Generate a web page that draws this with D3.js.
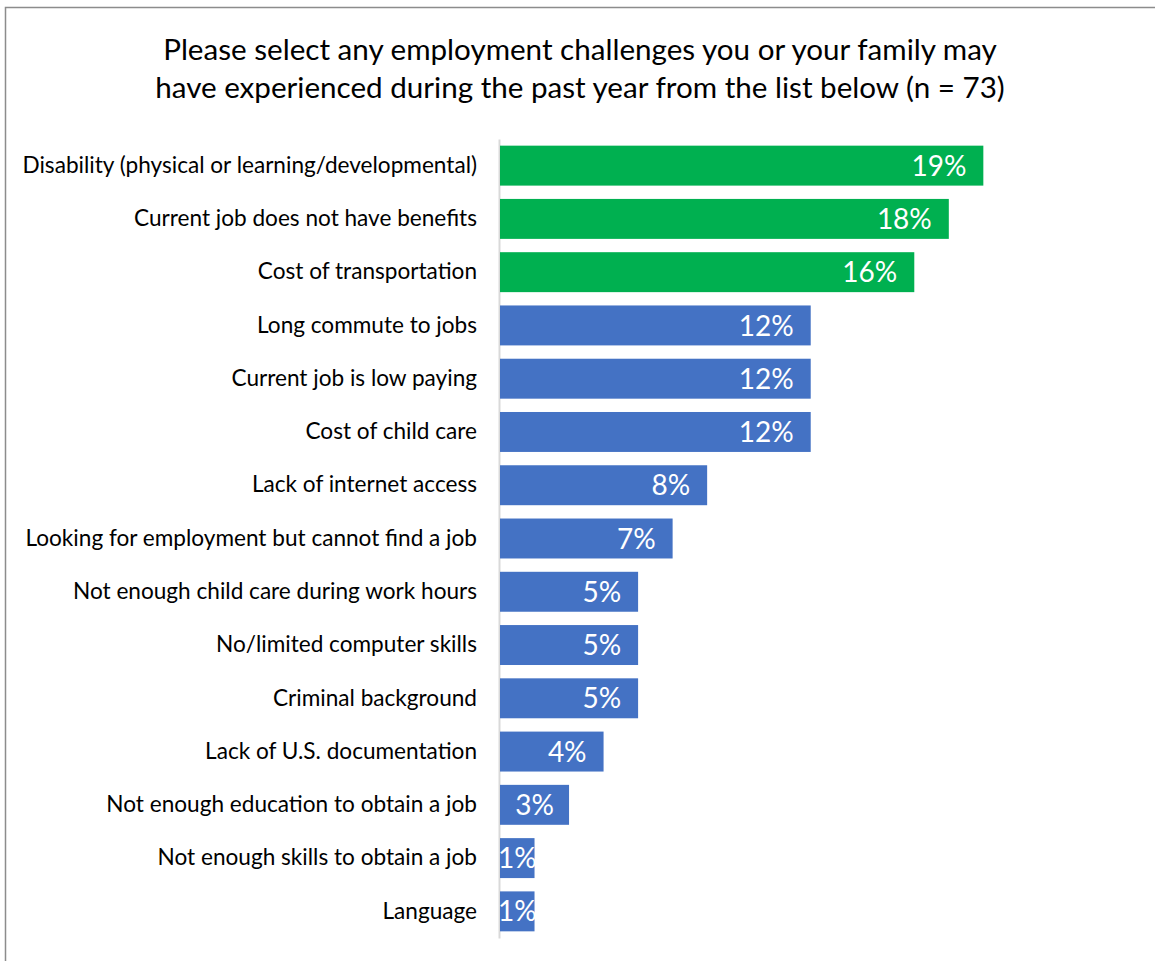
<!DOCTYPE html>
<html>
<head>
<meta charset="utf-8">
<script src="https://cdn.jsdelivr.net/npm/d3@7"></script>
<style>
  html, body { margin: 0; padding: 0; background: #fff; }
  svg { display: block; }
</style>
</head>
<body>
<svg id="chart" width="1155" height="961"></svg>
<script>
// Survey responses, share of respondents (%), n = 73
const categories = [
  "Disability (physical or learning/developmental)",
  "Current job does not have benefits",
  "Cost of transportation",
  "Long commute to jobs",
  "Current job is low paying",
  "Cost of child care",
  "Lack of internet access",
  "Looking for employment but cannot find a job",
  "Not enough child care during work hours",
  "No/limited computer skills",
  "Criminal background",
  "Lack of U.S. documentation",
  "Not enough education to obtain a job",
  "Not enough skills to obtain a job",
  "Language"
];
const values = [19.18, 17.81, 16.44, 12.33, 12.33, 12.33, 8.22, 6.85, 5.48, 5.48, 5.48, 4.11, 2.74, 1.37, 1.37];
// Top three challenges are highlighted
const highlighted = [true, true, true, false, false, false, false, false, false, false, false, false, false, false, false];
const titleLines = [
  "Please select any employment challenges you or your family may",
  "have experienced during the past year from the list below (n = 73)"
];

const FONT = "Lato, 'Open Sans', sans-serif";
const svg = d3.select("#chart");

// outer frame
svg.append("rect")
  .attr("x", 5.5).attr("y", 7.5)
  .attr("width", 1160).attr("height", 970)
  .attr("fill", "none")
  .attr("stroke", "#8c8c8c")
  .attr("stroke-width", 1.5);

// title
svg.append("g").selectAll("text")
  .data(titleLines)
  .join("text")
  .attr("x", 580)
  .attr("y", (d, i) => 60 + i * 38)
  .attr("text-anchor", "middle")
  .attr("font-family", FONT)
  .attr("font-size", 29.6)
  .attr("fill", "#000")
  .text(d => d);

const x = d3.scaleLinear().domain([0, 20]).range([500, 1004]);
const y = d3.scaleBand().domain(categories).range([139, 938])
  .paddingInner(0.25).paddingOuter(0.125);

const data = categories.map((c, i) => ({ c, v: values[i], hi: highlighted[i] }));

// category axis
const yAxis = d3.axisLeft(y).tickSize(0).tickPadding(22);
const gy = svg.append("g").attr("transform", "translate(499,0)").call(yAxis);
gy.select(".domain").attr("stroke", "#d9d9d9").attr("stroke-width", 2);
gy.selectAll("text")
  .attr("font-family", FONT)
  .attr("font-size", 22.6)
  .attr("fill", "#000");

// bars
svg.append("g").selectAll("rect")
  .data(data)
  .join("rect")
  .attr("x", x(0))
  .attr("y", d => y(d.c))
  .attr("width", d => x(d.v) - x(0))
  .attr("height", y.bandwidth())
  .attr("fill", d => d.hi ? "#00b050" : "#4472c4");

// value labels, placed inside the bar end (centred when the bar is too short)
const fmt = v => d3.format(".0f")(v) + "%";
const labels = svg.append("g").selectAll("text")
  .data(data)
  .join("text")
  .attr("y", d => y(d.c) + y.bandwidth() / 2)
  .attr("dy", "0.36em")
  .attr("font-family", FONT)
  .attr("font-size", 28)
  .attr("fill", "#fff")
  .text(d => fmt(d.v));

labels.each(function (d) {
  const w = this.getComputedTextLength();
  const x0 = x(0), x1 = x(d.v);
  const pad = 17;
  const el = d3.select(this);
  if (x1 - x0 < w + 2 * pad) {
    el.attr("x", (x0 + x1) / 2).attr("text-anchor", "middle");
  } else {
    el.attr("x", x1 - pad).attr("text-anchor", "end");
  }
});
</script>
</body>
</html>
